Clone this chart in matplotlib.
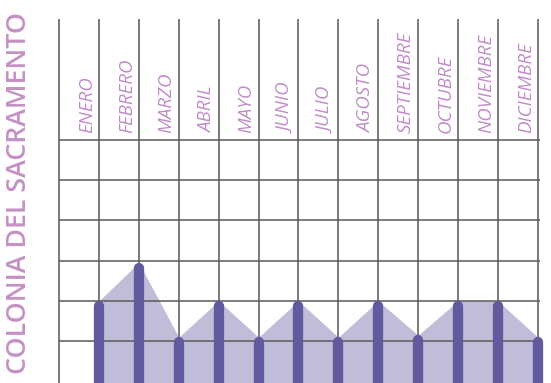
import numpy as np
import matplotlib.pyplot as plt

meses = ["ENERO", "FEBRERO", "MARZO", "ABRIL", "MAYO", "JUNIO",
         "JULIO", "AGOSTO", "SEPTIEMBRE", "OCTUBRE", "NOVIEMBRE", "DICIEMBRE"]
valores = [2.0, 2.95, 1.1, 2.0, 1.1, 2.0, 1.1, 2.0, 1.15, 2.0, 2.0, 1.1]
titulo = "COLONIA DEL SACRAMENTO"
filas = [1, 2, 3, 4, 5, 6]

dpi = 100
fig = plt.figure(figsize=(5.51, 3.83), dpi=dpi)
ax = fig.add_axes([0, 0, 1, 1])
ax.set_xlim(-59 / 39.9, (551 - 59) / 39.9)
ax.set_ylim(-1.5 / 40.3, 381.5 / 40.3)
ax.axis("off")

x = np.arange(1, len(meses) + 1)

# area under the bars
ax.fill_between(x, -1, valores, color="#c1bdd9", lw=0, zorder=1)

# grid: vertical lines and horizontal rows
ax.vlines(np.arange(0, len(meses) + 1), -1, 9.0, color="#7a7a7a", lw=1.4, zorder=2)
ax.hlines(filas, 0, 12.05, color="#5a5a5a", lw=1.1, zorder=2)

# thick bars with round tops, cap top sitting on the value
lw_bar = 7.4
r = (lw_bar / 2) / 72 * dpi / 40.3
for xi, v in zip(x, valores):
    ax.plot([xi, xi], [-1, v - r], color="#625a9f", lw=lw_bar,
            solid_capstyle="round", zorder=3)

for xi, m in zip(x, meses):
    ax.text(xi - 0.3, 6.17, m, rotation=90, ha="center", va="bottom",
            fontsize=13.5, style="italic", color="#c08cc8",
            family=["Open Sans", "DejaVu Sans"])

fig.text(19.5 / 551, 0.496, titulo, rotation=90, ha="center", va="center",
         fontsize=19.3, color="#c491c4", fontweight="semibold",
         family=["Open Sans", "DejaVu Sans"])

fig.savefig("out.png", dpi=dpi)
